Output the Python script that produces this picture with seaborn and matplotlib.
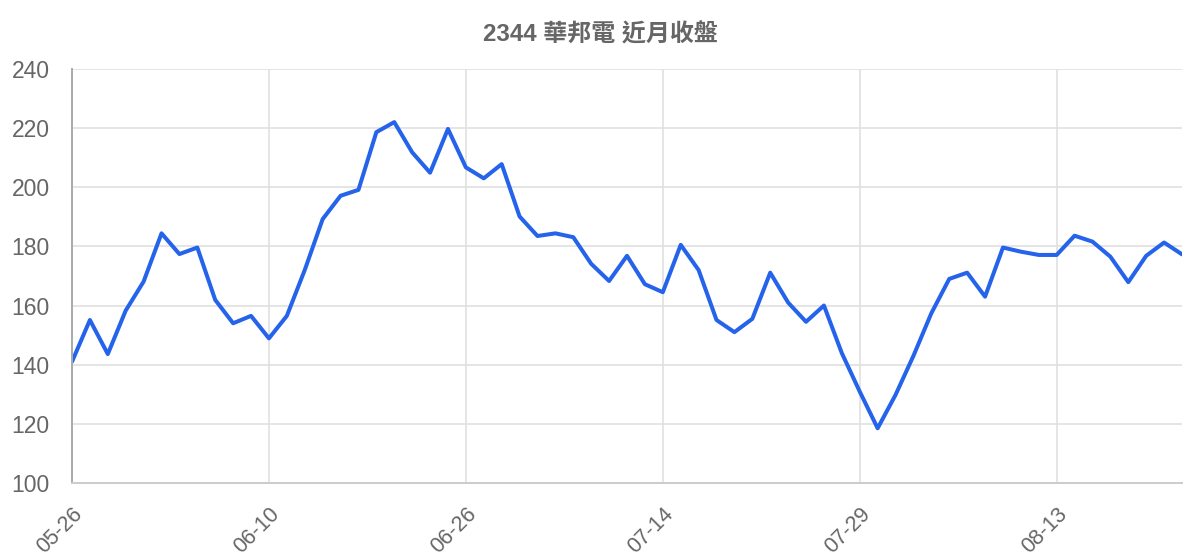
import pandas as pd
import matplotlib.pyplot as plt
import seaborn as sns

# closing prices, one per trading day
close = [
    141.0, 155.1, 143.6, 158.3, 168.1, 184.4, 177.4, 179.6, 161.9, 154.0,
    156.5, 148.9, 156.5, 172.0, 189.2, 197.1, 199.1, 218.6, 222.0, 211.8,
    204.9, 219.7, 206.7, 203.0, 207.8, 190.1, 183.5, 184.4, 183.1, 174.1,
    168.3, 176.8, 167.2, 164.5, 180.5, 172.0, 155.1, 151.0, 155.5, 171.1,
    161.0, 154.5, 160.0, 143.9, 130.9, 118.5, 129.8, 143.0, 157.4, 169.0,
    171.1, 163.0, 179.6, 178.2, 177.1, 177.1, 183.6, 181.6, 176.5, 167.9,
    176.8, 181.3, 177.3,
]
tick_labels = ['05-26', '06-10', '06-26', '07-14', '07-29', '08-13']
tick_step = 11
y_ticks = [100, 120, 140, 160, 180, 200, 220, 240]
title = '2344 華邦電 近月收盤'

df = pd.DataFrame({'day': range(len(close)), 'close': close})

sns.set_theme(style='white')
plt.rcParams['font.family'] = ['Liberation Sans', 'Noto Sans CJK TC', 'DejaVu Sans']

fig = plt.figure(figsize=(12, 5.6), dpi=100)
ax = fig.add_axes([0.06, 0.1375, 0.925, 0.7395])

sns.lineplot(data=df, x='day', y='close', color='#2563eb', linewidth=2.9, ax=ax)

ax.set_xlim(0, len(close) - 1)
ax.set_ylim(100, 240)
ax.set_yticks(y_ticks)
ax.set_xticks([i * tick_step for i in range(len(tick_labels))])
ax.set_xticklabels(tick_labels, rotation=45, ha='right', rotation_mode='anchor')
ax.set(xlabel='', ylabel='')

ax.grid(True, color='#e0e0e0', linewidth=1.2)
ax.set_axisbelow(True)
ax.tick_params(axis='both', length=14, width=1.2, color='#e0e0e0',
               labelcolor='#666666', pad=2)
ax.tick_params(axis='y', labelsize=16.5)
ax.tick_params(axis='x', labelsize=15.5, pad=1)

for side in ['top', 'right']:
    ax.spines[side].set_visible(False)
ax.spines['left'].set_color('#aaaaaa')
ax.spines['left'].set_linewidth(1.4)
ax.spines['bottom'].set_color('#cccccc')
ax.spines['bottom'].set_linewidth(1.4)

fig.text(0.5, 0.937, title, ha='center', va='center', fontsize=17.3,
         fontweight='bold', color='#666666')

fig.savefig('out.png', dpi=100)
